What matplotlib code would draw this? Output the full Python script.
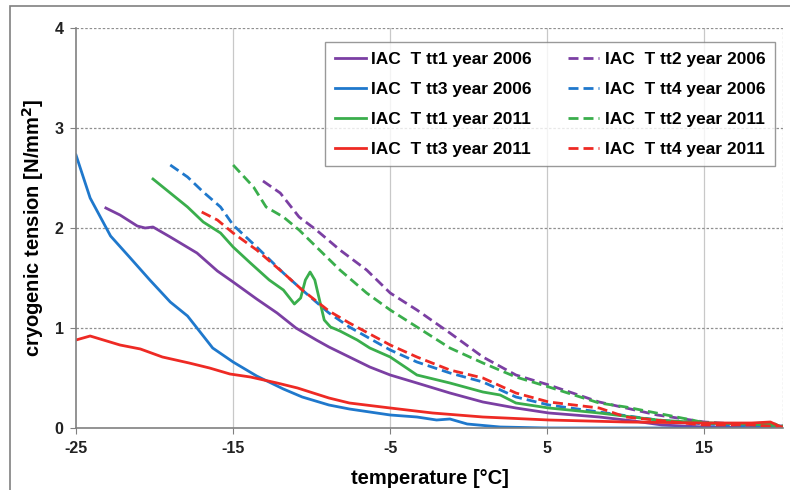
import numpy as np
import matplotlib.pyplot as plt
from matplotlib.patches import Rectangle

plt.rcParams['font.family'] = ['Liberation Sans', 'DejaVu Sans']
plt.rcParams['axes.unicode_minus'] = False

# curves: temperature [°C] / cryogenic tension [N/mm2]
t_tt1_2006 = [-23.1, -22.2, -21.1, -20.6, -20.1, -19.0, -17.3, -16.0, -15.0, -13.5, -12.2, -11.0, -9.7, -8.9,
              -7.6, -6.3, -5.0, -3.3, -1.2, 0.9, 3.0, 5.1, 8.3, 10.5, 12.3, 15, 20]
v_tt1_2006 = [2.20, 2.13, 2.02, 2.00, 2.01, 1.91, 1.75, 1.57, 1.46, 1.29, 1.15, 1.00, 0.88, 0.81,
              0.71, 0.61, 0.53, 0.45, 0.35, 0.26, 0.20, 0.15, 0.11, 0.07, 0.03, 0.01, 0.0]

t_tt3_2006 = [-25.0, -24.1, -22.8, -21.6, -20.3, -19.0, -17.9, -17.3, -16.3, -15.0, -13.5, -11.8, -10.6,
              -8.9, -7.6, -5.0, -3.3, -2.05, -1.2, -0.1, 1.3, 2.0, 5, 10, 15, 20]
v_tt3_2006 = [2.73, 2.30, 1.92, 1.71, 1.48, 1.26, 1.12, 1.00, 0.80, 0.66, 0.52, 0.39, 0.31,
              0.23, 0.19, 0.13, 0.11, 0.08, 0.09, 0.04, 0.02, 0.01, 0.0, 0.0, 0.0, 0.0]

t_tt1_2011 = [-20.1, -19.0, -17.9, -16.9, -15.8, -15.0, -13.9, -12.7, -11.8, -11.4, -11.1, -10.7, -10.4,
              -10.1, -9.8, -9.5, -9.2, -8.8, -8.2, -7.1, -6.3, -5.0, -3.3, -1.2, 0.9, 2.0, 3.0, 5.1,
              8.3, 12, 15, 18, 19.5, 20]
v_tt1_2011 = [2.49, 2.35, 2.21, 2.06, 1.95, 1.81, 1.65, 1.48, 1.38, 1.30, 1.24, 1.30, 1.48,
              1.56, 1.48, 1.28, 1.08, 1.01, 0.97, 0.88, 0.80, 0.71, 0.53, 0.45, 0.36, 0.33, 0.25, 0.20,
              0.15, 0.08, 0.05, 0.04, 0.04, 0.0]

t_tt3_2011 = [-25.0, -24.1, -22.2, -20.9, -19.5, -17.8, -16.5, -15.2, -13.9, -12.2, -10.9, -9.7, -8.9,
              -7.6, -5.0, -2.3, 0.9, 5.1, 10, 15, 18, 19.2, 20]
v_tt3_2011 = [0.88, 0.92, 0.83, 0.79, 0.71, 0.65, 0.60, 0.54, 0.51, 0.45, 0.40, 0.34, 0.30,
              0.25, 0.20, 0.15, 0.11, 0.08, 0.06, 0.05, 0.05, 0.06, 0.0]

t_tt2_2006 = [-13.1, -12.0, -10.8, -9.7, -8.2, -6.5, -5.0, -3.3, -1.2, 0.9, 3.0, 5.1, 8.3, 12, 15, 18, 20]
v_tt2_2006 = [2.47, 2.35, 2.11, 1.98, 1.78, 1.58, 1.35, 1.18, 0.95, 0.71, 0.53, 0.43, 0.26, 0.13, 0.06, 0.03, 0.02]

t_tt4_2006 = [-19.0, -17.9, -16.9, -15.8, -15.0, -13.5, -11.8, -10.6, -8.9, -7.6, -5.0, -3.3, -1.2,
              0.9, 3.0, 5.1, 8.3, 12, 15, 18, 20]
v_tt4_2006 = [2.63, 2.51, 2.36, 2.21, 2.03, 1.81, 1.55, 1.38, 1.15, 1.01, 0.78, 0.66, 0.55,
              0.46, 0.31, 0.23, 0.16, 0.08, 0.04, 0.02, 0.01]

t_tt2_2011 = [-15.0, -13.7, -12.9, -11.8, -10.8, -9.5, -8.2, -6.5, -5.0, -3.3, -1.2, 0.9, 3.0, 5.1,
              8.3, 10.0, 14.2, 15.1, 18, 20]
v_tt2_2011 = [2.63, 2.41, 2.21, 2.11, 1.98, 1.78, 1.58, 1.35, 1.18, 1.01, 0.80, 0.65, 0.51, 0.41,
              0.25, 0.21, 0.08, 0.05, 0.04, 0.02]

t_tt4_2011 = [-17.0, -16.0, -15.0, -13.5, -11.8, -10.6, -8.9, -7.6, -5.0, -3.3, -1.2, 0.9, 3.0, 5.1,
              8.3, 10.0, 14.9, 18, 20]
v_tt4_2011 = [2.16, 2.08, 1.95, 1.78, 1.55, 1.38, 1.17, 1.05, 0.83, 0.71, 0.58, 0.50, 0.35, 0.26,
              0.20, 0.11, 0.03, 0.03, 0.01]

purple = '#7b3fa3'
blue = '#1f78cc'
green = '#3aae4c'
red = '#ee2a24'

fig = plt.figure(figsize=(7.9, 4.9), dpi=100)
fig.patches.append(Rectangle((10 / 790, -0.1), 1.1, 1 - 6 / 490 + 0.1, transform=fig.transFigure,
                             fill=False, edgecolor='#808080', linewidth=1.2))
ax = fig.add_axes([76 / 790, 1 - 428 / 490, (783 - 76) / 790, 400 / 490])

lw = 2.0
dash = (0, (3.6, 1.8))
h1, = ax.plot(t_tt1_2006, v_tt1_2006, color=purple, lw=lw, label='IAC  T tt1 year 2006')
h2, = ax.plot(t_tt2_2006, v_tt2_2006, color=purple, lw=lw, ls=dash, label='IAC  T tt2 year 2006')
h3, = ax.plot(t_tt3_2006, v_tt3_2006, color=blue, lw=lw, label='IAC  T tt3 year 2006')
h4, = ax.plot(t_tt4_2006, v_tt4_2006, color=blue, lw=lw, ls=dash, label='IAC  T tt4 year 2006')
h5, = ax.plot(t_tt1_2011, v_tt1_2011, color=green, lw=lw, label='IAC  T tt1 year 2011')
h6, = ax.plot(t_tt2_2011, v_tt2_2011, color=green, lw=lw, ls=dash, label='IAC  T tt2 year 2011')
h7, = ax.plot(t_tt3_2011, v_tt3_2011, color=red, lw=lw, label='IAC  T tt3 year 2011')
h8, = ax.plot(t_tt4_2011, v_tt4_2011, color=red, lw=lw, ls=dash, label='IAC  T tt4 year 2011')

ax.set_xlim(-25, 20)
ax.set_ylim(0, 4)
ax.set_xticks([-25, -15, -5, 5, 15])
ax.set_yticks([0, 1, 2, 3, 4])
for x in [-15, -5, 5, 15]:
    ax.axvline(x, color='#c8c8c8', lw=0.9, zorder=0)
ax.axvline(20, color='#b0b0b0', lw=0.9, ls=(0, (2, 1.5)), zorder=0)
for y in [1, 2, 3, 4]:
    ax.axhline(y, color='#909090', lw=0.9, ls=(0, (2, 1.5)), zorder=0)

for s in ['top', 'right']:
    ax.spines[s].set_visible(False)
for s in ['left', 'bottom']:
    ax.spines[s].set_color('#808080')
    ax.spines[s].set_linewidth(1.2)
ax.tick_params(direction='out', length=4, color='#808080', labelsize=11.5, pad=5)
for lab in ax.get_xticklabels() + ax.get_yticklabels():
    lab.set_fontweight('bold')
    lab.set_color('#222222')

ax.set_xlabel('temperature [°C]', fontsize=14.5, fontweight='bold', labelpad=10)
ax.set_ylabel('cryogenic tension [N/mm$\\mathbf{^2}$]', fontsize=14.5, fontweight='bold', labelpad=6)

handles = [h1, h3, h5, h7, h2, h4, h6, h8]
leg = ax.legend(handles=handles, ncol=2, loc='upper left',
                bbox_to_anchor=((325 - 76) / 707, (428 - 42) / 400), borderaxespad=0,
                prop={'weight': 'bold', 'size': 12.5}, frameon=True, fancybox=False,
                edgecolor='#808080', handlelength=1.8, columnspacing=2.1, labelspacing=0.86,
                borderpad=0.55, handletextpad=0.3)
leg.get_frame().set_linewidth(1.0)

fig.savefig('out.png', dpi=100)
